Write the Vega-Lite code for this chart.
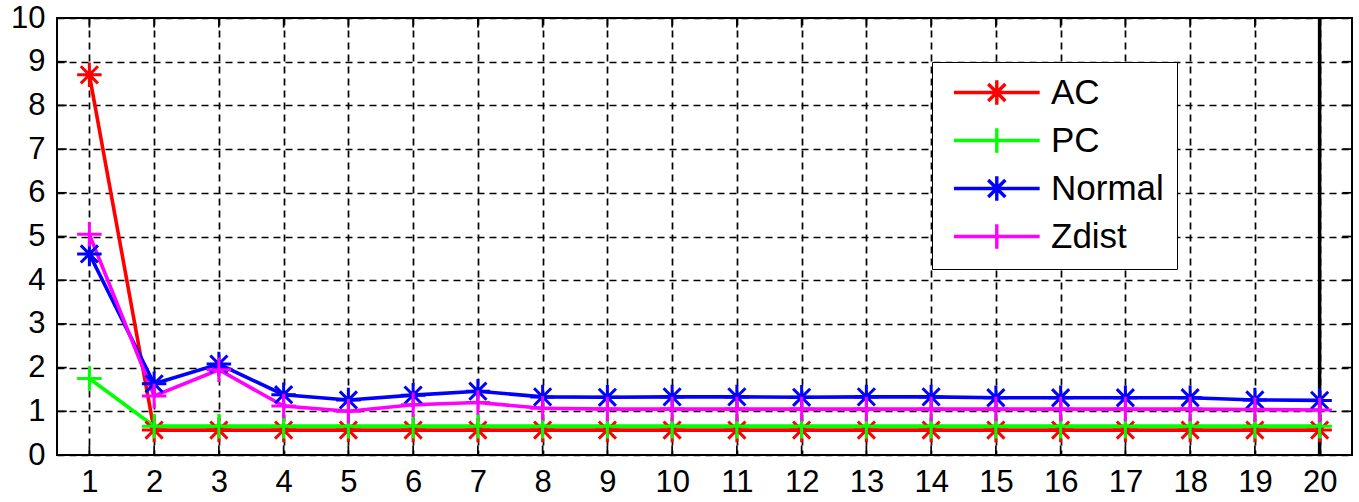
{
  "$schema": "https://vega.github.io/schema/vega-lite/v6.json",
  "autosize": {"type": "none"},
  "width": 1295,
  "height": 437,
  "padding": {"left": 57, "top": 18, "right": 7, "bottom": 47},
  "background": "white",
  "config": {
    "view": {"stroke": "black", "strokeWidth": 2},
    "font": "Liberation Sans",
    "axis": {
      "domain": false,
      "grid": true,
      "gridColor": "black",
      "gridOpacity": 1,
      "gridDash": [7, 5],
      "gridWidth": 1.7,
      "ticks": false,
      "labelColor": "black",
      "labelFont": "Liberation Sans",
      "labelFontSize": 31,
      "format": "d",
      "title": null
    },
    "legend": {
      "orient": "none",
      "legendX": 875,
      "legendY": 44,
      "title": null,
      "strokeColor": "black",
      "fillColor": "white",
      "padding": 13,
      "rowPadding": 9,
      "labelFontSize": 35,
      "labelFont": "Liberation Sans",
      "labelColor": "black",
      "labelOffset": 71,
      "symbolSize": 600,
      "symbolStrokeWidth": 3.4
    }
  },
  "datasets": {
    "series": [
      {"x": 1, "series": "AC", "value": 8.7},
      {"x": 2, "series": "AC", "value": 0.57},
      {"x": 3, "series": "AC", "value": 0.57},
      {"x": 4, "series": "AC", "value": 0.57},
      {"x": 5, "series": "AC", "value": 0.57},
      {"x": 6, "series": "AC", "value": 0.57},
      {"x": 7, "series": "AC", "value": 0.57},
      {"x": 8, "series": "AC", "value": 0.57},
      {"x": 9, "series": "AC", "value": 0.57},
      {"x": 10, "series": "AC", "value": 0.57},
      {"x": 11, "series": "AC", "value": 0.57},
      {"x": 12, "series": "AC", "value": 0.57},
      {"x": 13, "series": "AC", "value": 0.57},
      {"x": 14, "series": "AC", "value": 0.57},
      {"x": 15, "series": "AC", "value": 0.57},
      {"x": 16, "series": "AC", "value": 0.57},
      {"x": 17, "series": "AC", "value": 0.57},
      {"x": 18, "series": "AC", "value": 0.57},
      {"x": 19, "series": "AC", "value": 0.57},
      {"x": 20, "series": "AC", "value": 0.57},
      {"x": 1, "series": "PC", "value": 1.75},
      {"x": 2, "series": "PC", "value": 0.66},
      {"x": 3, "series": "PC", "value": 0.66},
      {"x": 4, "series": "PC", "value": 0.66},
      {"x": 5, "series": "PC", "value": 0.66},
      {"x": 6, "series": "PC", "value": 0.66},
      {"x": 7, "series": "PC", "value": 0.66},
      {"x": 8, "series": "PC", "value": 0.66},
      {"x": 9, "series": "PC", "value": 0.66},
      {"x": 10, "series": "PC", "value": 0.66},
      {"x": 11, "series": "PC", "value": 0.66},
      {"x": 12, "series": "PC", "value": 0.66},
      {"x": 13, "series": "PC", "value": 0.66},
      {"x": 14, "series": "PC", "value": 0.66},
      {"x": 15, "series": "PC", "value": 0.66},
      {"x": 16, "series": "PC", "value": 0.66},
      {"x": 17, "series": "PC", "value": 0.66},
      {"x": 18, "series": "PC", "value": 0.66},
      {"x": 19, "series": "PC", "value": 0.66},
      {"x": 20, "series": "PC", "value": 0.66},
      {"x": 1, "series": "Normal", "value": 4.6},
      {"x": 2, "series": "Normal", "value": 1.63},
      {"x": 3, "series": "Normal", "value": 2.08},
      {"x": 4, "series": "Normal", "value": 1.38},
      {"x": 5, "series": "Normal", "value": 1.26},
      {"x": 6, "series": "Normal", "value": 1.37},
      {"x": 7, "series": "Normal", "value": 1.46},
      {"x": 8, "series": "Normal", "value": 1.33},
      {"x": 9, "series": "Normal", "value": 1.32},
      {"x": 10, "series": "Normal", "value": 1.33},
      {"x": 11, "series": "Normal", "value": 1.33},
      {"x": 12, "series": "Normal", "value": 1.32},
      {"x": 13, "series": "Normal", "value": 1.33},
      {"x": 14, "series": "Normal", "value": 1.33},
      {"x": 15, "series": "Normal", "value": 1.31},
      {"x": 16, "series": "Normal", "value": 1.31},
      {"x": 17, "series": "Normal", "value": 1.31},
      {"x": 18, "series": "Normal", "value": 1.31},
      {"x": 19, "series": "Normal", "value": 1.26},
      {"x": 20, "series": "Normal", "value": 1.25},
      {"x": 1, "series": "Zdist", "value": 5.05},
      {"x": 2, "series": "Zdist", "value": 1.35},
      {"x": 3, "series": "Zdist", "value": 1.95},
      {"x": 4, "series": "Zdist", "value": 1.12},
      {"x": 5, "series": "Zdist", "value": 1.0},
      {"x": 6, "series": "Zdist", "value": 1.15},
      {"x": 7, "series": "Zdist", "value": 1.2},
      {"x": 8, "series": "Zdist", "value": 1.07},
      {"x": 9, "series": "Zdist", "value": 1.05},
      {"x": 10, "series": "Zdist", "value": 1.05},
      {"x": 11, "series": "Zdist", "value": 1.05},
      {"x": 12, "series": "Zdist", "value": 1.05},
      {"x": 13, "series": "Zdist", "value": 1.05},
      {"x": 14, "series": "Zdist", "value": 1.05},
      {"x": 15, "series": "Zdist", "value": 1.05},
      {"x": 16, "series": "Zdist", "value": 1.05},
      {"x": 17, "series": "Zdist", "value": 1.05},
      {"x": 18, "series": "Zdist", "value": 1.05},
      {"x": 19, "series": "Zdist", "value": 1.04},
      {"x": 20, "series": "Zdist", "value": 1.03}
    ],
    "xticks": [
      {"x": 1}, {"x": 2}, {"x": 3}, {"x": 4}, {"x": 5}, {"x": 6}, {"x": 7}, {"x": 8}, {"x": 9}, {"x": 10},
      {"x": 11}, {"x": 12}, {"x": 13}, {"x": 14}, {"x": 15}, {"x": 16}, {"x": 17}, {"x": 18}, {"x": 19}, {"x": 20}
    ],
    "yticks": [
      {"y": 1}, {"y": 2}, {"y": 3}, {"y": 4}, {"y": 5}, {"y": 6}, {"y": 7}, {"y": 8}, {"y": 9}
    ],
    "marker": [{"x": 20}]
  },
  "layer": [
    {
      "data": {"name": "xticks"},
      "mark": {"type": "rule", "color": "black", "strokeWidth": 1.7},
      "encoding": {
        "x": {
          "field": "x",
          "type": "quantitative",
          "scale": {"domain": [0.5, 20.5], "nice": false, "zero": false},
          "axis": {"values": [1,2,3,4,5,6,7,8,9,10,11,12,13,14,15,16,17,18,19,20], "labelPadding": 12}
        },
        "y": {"datum": 0, "type": "quantitative", "scale": {"domain": [0, 10], "nice": false}, "axis": {"values": [0,1,2,3,4,5,6,7,8,9,10], "labelPadding": 12}},
        "y2": {"datum": 0.22}
      }
    },
    {
      "data": {"name": "xticks"},
      "mark": {"type": "rule", "color": "black", "strokeWidth": 1.7},
      "encoding": {
        "x": {"field": "x", "type": "quantitative"},
        "y": {"datum": 10, "type": "quantitative"},
        "y2": {"datum": 9.78}
      }
    },
    {
      "data": {"name": "yticks"},
      "mark": {"type": "rule", "color": "black", "strokeWidth": 1.7},
      "encoding": {
        "y": {"field": "y", "type": "quantitative"},
        "x": {"datum": 0.5, "type": "quantitative"},
        "x2": {"datum": 0.65}
      }
    },
    {
      "data": {"name": "yticks"},
      "mark": {"type": "rule", "color": "black", "strokeWidth": 1.7},
      "encoding": {
        "y": {"field": "y", "type": "quantitative"},
        "x": {"datum": 20.5, "type": "quantitative"},
        "x2": {"datum": 20.35}
      }
    },
    {
      "data": {"name": "marker"},
      "mark": {"type": "rule", "color": "black", "strokeWidth": 3.5},
      "encoding": {
        "x": {"field": "x", "type": "quantitative"}
      }
    },
    {
      "data": {"name": "series"},
      "mark": {"type": "line", "strokeWidth": 3.6},
      "encoding": {
        "x": {"field": "x", "type": "quantitative"},
        "y": {"field": "value", "type": "quantitative"},
        "color": {
          "field": "series",
          "type": "nominal",
          "scale": {"domain": ["AC", "PC", "Normal", "Zdist"], "range": ["#ff0000", "#00ff00", "#0000ff", "#ff00ff"]}
        },
        "order": {"field": "x"}
      }
    },
    {
      "data": {"name": "series"},
      "mark": {"type": "point", "filled": false, "strokeWidth": 3, "size": 600, "opacity": 1},
      "encoding": {
        "x": {"field": "x", "type": "quantitative"},
        "y": {"field": "value", "type": "quantitative"},
        "color": {"field": "series", "type": "nominal"},
        "shape": {
          "condition": {
            "test": "datum.series === 'AC' || datum.series === 'Normal'",
            "value": "M-1,0L1,0M0,-1L0,1M-0.7,-0.7L0.7,0.7M-0.7,0.7L0.7,-0.7"
          },
          "value": "M-1,0L1,0M0,-1L0,1"
        }
      }
    },
    {
      "data": {"values": []},
      "mark": {"type": "point", "filled": false, "strokeWidth": 3.4, "size": 600, "opacity": 1},
      "encoding": {
        "x": {"field": "x", "type": "quantitative"},
        "y": {"field": "value", "type": "quantitative"},
        "color": {"field": "series", "type": "nominal"},
        "shape": {
          "field": "series",
          "type": "nominal",
          "scale": {
            "domain": ["AC", "PC", "Normal", "Zdist"],
            "range": [
              "M-0.7,0L6.3,0M1.8,0L3.8,0M2.8,-1L2.8,1M2.1,-0.7L3.5,0.7M2.1,0.7L3.5,-0.7",
              "M-0.7,0L6.3,0M2.8,-1L2.8,1",
              "M-0.7,0L6.3,0M1.8,0L3.8,0M2.8,-1L2.8,1M2.1,-0.7L3.5,0.7M2.1,0.7L3.5,-0.7",
              "M-0.7,0L6.3,0M2.8,-1L2.8,1"
            ]
          }
        }
      }
    }
  ]
}
